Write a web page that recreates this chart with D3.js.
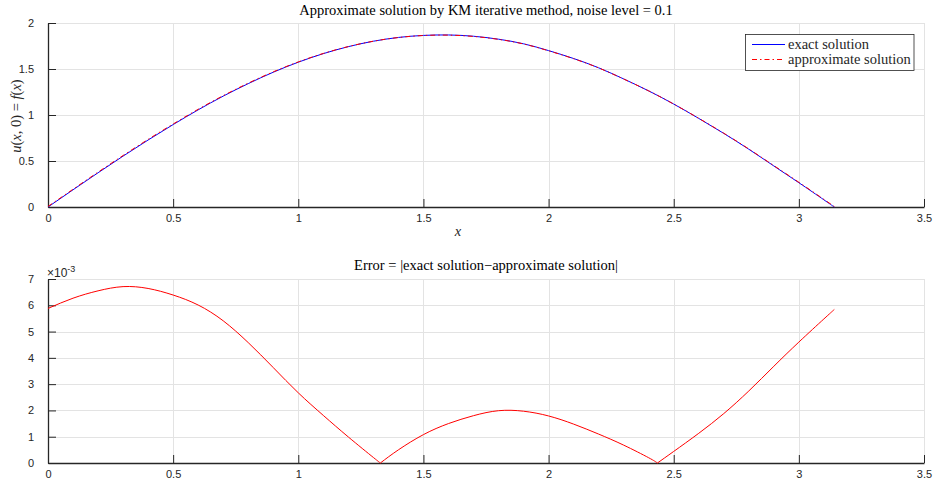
<!DOCTYPE html>
<html><head><meta charset="utf-8">
<script src="https://cdn.jsdelivr.net/npm/d3@7"></script>
<style>body{margin:0;background:#fff}svg{display:block}</style>
</head><body>
<svg id="c" width="933" height="482"></svg>
<script>
// ---- data ----
const xs = [0,0.1,0.2,0.3,0.4,0.5,0.6,0.7,0.8,0.9,1.0,1.1,1.2,1.3,1.4,1.5,1.6,1.7,1.8,1.9,2.0,2.1,2.2,2.3,2.4,2.5,2.6,2.7,2.8,2.9,3.0,3.1,3.1416];
const exactVals = [0,0.187,0.372,0.553,0.728,0.896,1.056,1.205,1.341,1.465,1.574,1.667,1.743,1.802,1.843,1.865,1.870,1.856,1.824,1.774,1.700,1.614,1.513,1.392,1.262,1.119,0.963,0.800,0.628,0.446,0.264,0.078,0];
const approxVals = [0.006,0.193,0.379,0.560,0.735,0.902,1.062,1.210,1.346,1.469,1.577,1.669,1.744,1.802,1.842,1.864,1.868,1.854,1.822,1.772,1.698,1.612,1.512,1.391,1.262,1.119,0.964,0.802,0.631,0.450,0.269,0.083,0.006];
const errX = [0,0.1,0.2,0.3,0.4,0.5,0.6,0.7,0.8,0.9,1.0,1.1,1.2,1.3,1.328,1.4,1.5,1.6,1.7,1.8,1.9,2.0,2.1,2.2,2.3,2.4,2.435,2.5,2.6,2.7,2.8,2.9,3.0,3.1,3.1416];
const errVals = [5.88,6.27,6.55,6.71,6.64,6.39,6.01,5.41,4.58,3.63,2.67,1.81,0.99,0.21,0,0.50,1.08,1.50,1.80,1.99,1.97,1.79,1.48,1.10,0.68,0.20,0,0.44,1.13,1.88,2.74,3.68,4.60,5.48,5.84]; // ×10^-3
const xTickVals = [0,0.5,1,1.5,2,2.5,3,3.5];
const yTickTop = [0,0.5,1,1.5,2];
const yTickBot = [0,1,2,3,4,5,6,7];
const legendLabels = ["exact solution","approximate solution"];
const titleTop = "Approximate solution by KM iterative method, noise level = 0.1";
const titleBot = "Error = |exact solution\u2212approximate solution|";

const svg = d3.select("#c");
const serif = "'Liberation Serif', 'DejaVu Serif', serif";
const sans = "'Liberation Sans', Arial, sans-serif";
const axCol = "#262626", gridCol = "#e3e3e3";
const L = 48, R = 924;
const serifSize = "14.5px";
const dashDot = "5,3,1.5,3";

function panel(top, bottom, yDomain, yTicks){
  const x = d3.scaleLinear().domain([0,3.5]).range([L,R]);
  const y = d3.scaleLinear().domain(yDomain).range([bottom, top]);
  const g = svg.append("g");
  g.selectAll(".gx").data(xTickVals).join("line")
    .attr("x1",d=>Math.round(x(d))+0.5).attr("x2",d=>Math.round(x(d))+0.5)
    .attr("y1",top).attr("y2",bottom).attr("stroke",gridCol).attr("stroke-width",1);
  g.selectAll(".gy").data(yTicks).join("line")
    .attr("y1",d=>Math.round(y(d))+0.5).attr("y2",d=>Math.round(y(d))+0.5)
    .attr("x1",L).attr("x2",R).attr("stroke",gridCol).attr("stroke-width",1);
  const xa = g.append("g").attr("transform",`translate(0,${bottom})`)
    .call(d3.axisBottom(x).tickValues(xTickVals).tickSizeInner(-8).tickSizeOuter(0).tickPadding(7).tickFormat(d3.format("")));
  const ya = g.append("g").attr("transform",`translate(${L},0)`)
    .call(d3.axisLeft(y).tickValues(yTicks).tickSizeInner(-8).tickSizeOuter(0).tickPadding(14).tickFormat(d3.format("")));
  [xa,ya].forEach(a=>{
    a.select(".domain").attr("stroke",axCol).attr("stroke-width",1.3);
    a.selectAll(".tick line").attr("stroke",axCol).attr("stroke-width",1);
    a.selectAll(".tick text").attr("fill",axCol).style("font-family",sans).style("font-size","11px");
  });
  return {x,y,g};
}

// ---- top panel ----
const p1 = panel(23, 207, [0,2], yTickTop);
const line1 = d3.line().x((d,i)=>p1.x(xs[i])).y(d=>p1.y(d)).curve(d3.curveNatural);
p1.g.append("path").attr("d",line1(exactVals)).attr("fill","none").attr("stroke","#0000ff").attr("stroke-width",1);
p1.g.append("path").attr("d",line1(approxVals)).attr("fill","none").attr("stroke","#ff0000").attr("stroke-width",1)
  .attr("stroke-dasharray",dashDot);

svg.append("text").attr("x",486).attr("y",15).attr("text-anchor","middle")
  .style("font-family",serif).style("font-size",serifSize).attr("fill","#000").text(titleTop);

const yl = svg.append("text").attr("transform","translate(21,116) rotate(-90)").attr("text-anchor","middle")
  .style("font-family",serif).style("font-size",serifSize).attr("fill",axCol);
[["u",1],["(",0],["x",1],[", 0) = ",0],["f",1],["(",0],["x",1],[")",0]].forEach(([t,it])=>{
  yl.append("tspan").style("font-style",it?"italic":"normal").text(t);
});
svg.append("text").attr("x",458).attr("y",236).attr("text-anchor","middle")
  .style("font-family",serif).style("font-size",serifSize).style("font-style","italic").attr("fill",axCol).text("x");

// legend
const lg = svg.append("g");
lg.append("rect").attr("x",745.5).attr("y",34.5).attr("width",168.5).attr("height",36)
  .attr("fill","#fff").attr("stroke",axCol).attr("stroke-width",0.8);
[["#0000ff",null],["#ff0000",dashDot]].forEach(([c,da],i)=>{
  const yy = 44.5 + i*15;
  const ln = lg.append("line").attr("x1",752).attr("x2",785).attr("y1",yy).attr("y2",yy).attr("stroke",c).attr("stroke-width",1.2);
  if(da) ln.attr("stroke-dasharray",da);
  lg.append("text").attr("x",788).attr("y",yy+4.5).style("font-family",serif).style("font-size",serifSize).attr("fill",axCol).text(legendLabels[i]);
});

// ---- bottom panel ----
const p2 = panel(279, 463, [0,7], yTickBot);
const segs = []; let cur = [];
errX.forEach((xv,i)=>{ cur.push([xv,errVals[i]]); if(errVals[i]===0 && i>0 && i<errX.length-1){ segs.push(cur); cur=[[xv,0]]; } });
segs.push(cur);
const line2 = d3.line().x(d=>p2.x(d[0])).y(d=>p2.y(d[1])).curve(d3.curveNatural);
segs.forEach(s=>p2.g.append("path").attr("d",line2(s)).attr("fill","none").attr("stroke","#ff0000").attr("stroke-width",1));

svg.append("text").attr("x",486).attr("y",270).attr("text-anchor","middle")
  .style("font-family",serif).style("font-size",serifSize).attr("fill","#000").text(titleBot);
const ex = svg.append("text").attr("x",47).attr("y",277).style("font-family",sans).style("font-size","12px").attr("fill",axCol);
ex.append("tspan").text("\u00d710");
ex.append("tspan").attr("dy",-5).style("font-size","9px").text("-3");
</script>
</body></html>
